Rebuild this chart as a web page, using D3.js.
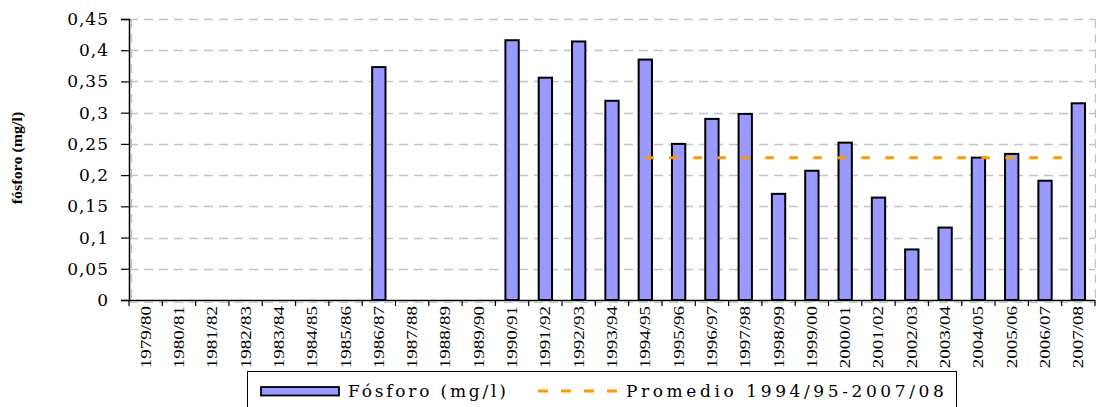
<!DOCTYPE html>
<html>
<head>
<meta charset="utf-8">
<script src="https://cdn.jsdelivr.net/npm/d3@7"></script>
<style>
  html, body { margin: 0; padding: 0; background: #fff; }
  svg { display: block; }
  .tick-y { font-family: "DejaVu Serif", serif; font-size: 17px; letter-spacing: 1px; fill: #000; }
  .tick-x { font-family: "Liberation Serif", serif; font-size: 19px; fill: #000; }
  .ytitle { font-family: "Liberation Serif", serif; font-size: 16px; font-weight: bold; }
  .legend text { font-family: "DejaVu Serif", serif; font-size: 17px; }
</style>
</head>
<body>
<div id="chart"></div>
<script>
(function(){

// campaign years
var seasons = ["1979/80","1980/81","1981/82","1982/83","1983/84","1984/85","1985/86",
    "1986/87","1987/88","1988/89","1989/90","1990/91","1991/92","1992/93","1993/94",
    "1994/95","1995/96","1996/97","1997/98","1998/99","1999/00","2000/01","2001/02",
    "2002/03","2003/04","2004/05","2005/06","2006/07","2007/08"];

// fosforo (mg/l), null = sin dato
var fosforo = [null, null, null, null, null, null, null,
    0.373, null, null, null, 0.416, 0.356, 0.414, 0.319,
    0.385, 0.250, 0.290, 0.298, 0.170, 0.207, 0.252, 0.164,
    0.081, 0.116, 0.228, 0.234, 0.191, 0.315];

// promedio 1994/95-2007/08
var promedio = 0.228;
var promedioDesde = "1994/95";
var promedioHasta = "2007/08";

var yTicks = [0, 0.05, 0.1, 0.15, 0.2, 0.25, 0.3, 0.35, 0.4, 0.45];

var seriesNames = ["Fósforo (mg/l)", "Promedio 1994/95-2007/08"];

var width = 1096, height = 407;
var left = 129, right = 1095, top = 19, bottom = 300;

var svg = d3.select("#chart").append("svg")
    .attr("width", width)
    .attr("height", height);

var x = d3.scaleBand()
    .domain(seasons)
    .range([left, right])
    .paddingInner(0.6)
    .paddingOuter(0.3);

var y = d3.scaleLinear()
    .domain([0, 0.45])
    .range([bottom, top]);

var es = d3.formatLocale({decimal: ",", thousands: ".", grouping: [3], currency: ["", "€"]});
var fmt = es.format("~f");

//gridlines
svg.selectAll(".grid")
    .data(yTicks.slice(1))
    .enter()
    .append("line")
    .attr("x1", left)
    .attr("x2", right)
    .attr("y1", function(d){ return Math.round(y(d)) + 0.5; })
    .attr("y2", function(d){ return Math.round(y(d)) + 0.5; })
    .attr("stroke", "#c4c4c4")
    .attr("stroke-width", 1.3)
    .attr("stroke-dasharray", "9,6");

//plot area border (dashed)
[left + 2, right].forEach(function(xx){
    svg.append("line")
        .attr("x1", xx + 0.5).attr("x2", xx + 0.5)
        .attr("y1", top).attr("y2", bottom)
        .attr("stroke", "#c4c4c4")
        .attr("stroke-width", 1.3)
        .attr("stroke-dasharray", "9,6");
});
svg.append("line")
    .attr("x1", left).attr("x2", right)
    .attr("y1", bottom + 2.5).attr("y2", bottom + 2.5)
    .attr("stroke", "#c4c4c4")
    .attr("stroke-width", 1)
    .attr("stroke-dasharray", "9,6");

//bars
svg.selectAll(".bar")
    .data(seasons.map(function(s, i){ return {season: s, value: fosforo[i]}; })
        .filter(function(d){ return d.value !== null; }))
    .enter()
    .append("rect")
    .attr("class", "bar")
    .attr("x", function(d){ return x(d.season); })
    .attr("y", function(d){ return y(d.value); })
    .attr("width", x.bandwidth())
    .attr("height", function(d){ return y(0) - y(d.value); })
    .attr("fill", "#9999ff")
    .attr("stroke", "#000")
    .attr("stroke-width", 2);

//average line
svg.append("line")
    .attr("x1", x(promedioDesde) + x.bandwidth() / 2)
    .attr("x2", x(promedioHasta) + x.bandwidth() / 2)
    .attr("y1", y(promedio))
    .attr("y2", y(promedio))
    .attr("stroke", "#ff9900")
    .attr("stroke-width", 3)
    .attr("stroke-dasharray", "8.5,15.5");

//y axis
var yAxis = d3.axisLeft(y)
    .tickValues(yTicks)
    .tickSize(8)
    .tickPadding(12)
    .tickFormat(fmt);

var gy = svg.append("g")
    .attr("transform", "translate(" + left + ",0)")
    .call(yAxis);
gy.select(".domain").attr("stroke", "#000").attr("stroke-width", 1.5);
gy.selectAll(".tick line").attr("stroke", "#000").attr("stroke-width", 1.2);
gy.selectAll(".tick text")
    .attr("class", "tick-y")
    .attr("font-family", null)
    .attr("font-size", null);

//x axis
svg.append("line")
    .attr("x1", left).attr("x2", right)
    .attr("y1", bottom + 0.5).attr("y2", bottom + 0.5)
    .attr("stroke", "#000")
    .attr("stroke-width", 1.5);

svg.selectAll(".xtick")
    .data(d3.range(seasons.length + 1))
    .enter()
    .append("line")
    .attr("x1", function(i){ return left + i * x.step(); })
    .attr("x2", function(i){ return left + i * x.step(); })
    .attr("y1", bottom)
    .attr("y2", bottom + 6)
    .attr("stroke", "#000")
    .attr("stroke-width", 1.2);

svg.selectAll(".xlabel")
    .data(seasons)
    .enter()
    .append("text")
    .attr("class", "tick-x")
    .attr("text-anchor", "end")
    .attr("transform", function(d){
        return "translate(" + (x(d) + x.bandwidth() / 2 + 5) + "," + (bottom + 6) + ") rotate(-90) scale(1,0.8)";
    })
    .text(function(d){ return d; });

//y title
svg.append("text")
    .attr("class", "ytitle")
    .attr("text-anchor", "middle")
    .attr("transform", "translate(22,158) rotate(-90) scale(1,0.85)")
    .text("fósforo (mg/l)");

//legend
var legend = svg.append("g").attr("class", "legend");
legend.append("rect")
    .attr("x", 247.5).attr("y", 371.5)
    .attr("width", 709).attr("height", 60)
    .attr("fill", "#fff")
    .attr("stroke", "#000")
    .attr("stroke-width", 1);
legend.append("rect")
    .attr("x", 261).attr("y", 387)
    .attr("width", 78).attr("height", 8.5)
    .attr("fill", "#9999ff")
    .attr("stroke", "#000")
    .attr("stroke-width", 1.8);
legend.append("text")
    .attr("x", 348).attr("y", 397)
    .attr("letter-spacing", "2.8px")
    .text(seriesNames[0]);
legend.append("line")
    .attr("x1", 538).attr("x2", 620)
    .attr("y1", 391).attr("y2", 391)
    .attr("stroke", "#ff9900")
    .attr("stroke-width", 3)
    .attr("stroke-dasharray", "10,13");
legend.append("text")
    .attr("x", 626).attr("y", 397)
    .attr("letter-spacing", "3.6px")
    .text(seriesNames[1]);

})();
</script>
</body>
</html>
